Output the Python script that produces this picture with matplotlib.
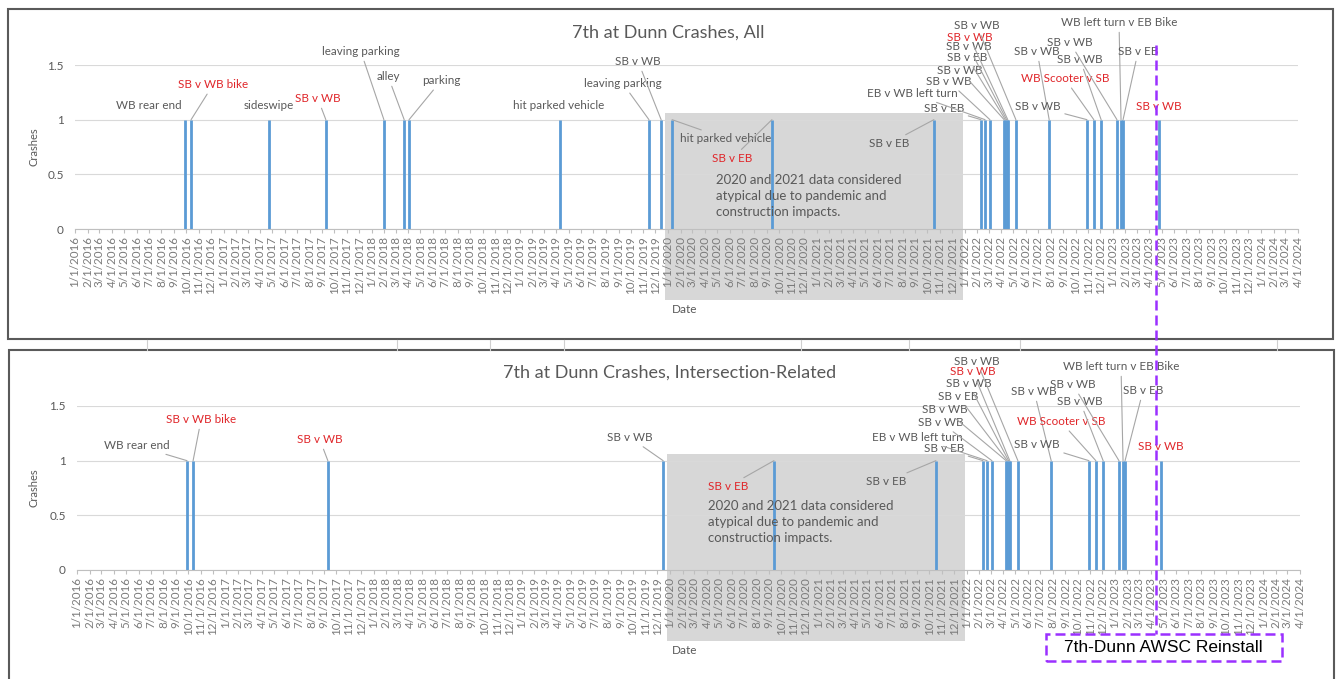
import matplotlib
matplotlib.use("Agg")
import matplotlib.pyplot as plt
import matplotlib.dates as mdates
from matplotlib.patches import Rectangle
from matplotlib.lines import Line2D
import matplotlib.transforms as mtransforms
import numpy as np

W, H = 1340, 679

# crash records (one bar per crash)
crash_dates = ['2016-09-28', '2016-10-13', '2017-04-23', '2017-09-10', '2018-01-31',
               '2018-03-22', '2018-04-03', '2019-04-10', '2019-11-15', '2019-12-15',
               '2020-01-11', '2020-09-13', '2021-10-17', '2022-02-10', '2022-02-20',
               '2022-03-04', '2022-04-08', '2022-04-11', '2022-04-14', '2022-04-17',
               '2022-05-07', '2022-07-28', '2022-10-29', '2022-11-15', '2022-12-03',
               '2023-01-11', '2023-01-21', '2023-01-26', '2023-04-25']
crash_counts = [1, 1, 1, 1, 1, 1, 1, 1, 1, 1, 1, 1, 1, 1, 1,
                1, 1, 1, 1, 1, 1, 1, 1, 1, 1, 1, 1, 1, 1]
crash_types = ['WB rear end', 'SB v WB bike', 'sideswipe', 'SB v WB', 'leaving parking',
               'alley', 'parking', 'hit parked vehicle', 'leaving parking', 'SB v WB',
               'hit parked vehicle', 'SB v EB', 'SB v EB', 'SB v EB', 'EB v WB left turn',
               'SB v WB', 'SB v WB', 'SB v EB', 'SB v WB', 'SB v WB',
               'SB v WB', 'SB v WB', 'SB v WB', 'WB Scooter v SB', 'SB v WB',
               'SB v WB', 'WB left turn v EB Bike', 'SB v EB', 'SB v WB']
highlight = [False, True, False, True, False, False, False, False, False, False,
             False, True, False, False, False, False, False, False, False, True,
             False, False, False, True, False, False, False, False, True]
intersection = [True, True, False, True, False, False, False, False, False, True,
                False, True, True, True, True, True, True, True, True, True,
                True, True, True, True, True, True, True, True, True]

atypical_start, atypical_end = '2019-12-24', '2021-12-28'
atypical_note = '2020 and 2021 data considered\natypical due to pandemic and\nconstruction impacts.'
reinstall_date = '2023-04-17'
x_start, x_end = '2016-01-01', '2024-04-01'

# label placement (pixel offsets from bar top, leader line on/off)
top_offsets = [(-36, 14, False), (22, 35, True), (0, 14, False), (-8, 21, True), (-23, 68, True),
               (-16, 43, True), (32, 39, True), (-1, 14, False), (-26, 36, True), (-23, 58, True),
               (54, -19, True), (-40, -39, True), (-45, -24, True), (-37, 11, True), (-73, 26, True),
               (-41, 38, True), (-44, 49, True), (-38, 62, True), (-38, 73, True), (-38, 82, True),
               (-39, 94, True), (-12, 68, True), (-49, 13, True), (-29, 41, True), (-21, 60, True),
               (-47, 77, True), (-2, 97, True), (15, 68, True), (0, 13, False)]
bottom_offsets = [(-50, 15, True), (8, 41, True), None, (-8, 21, True), None,
                  None, None, None, None, (-33, 23, True),
                  None, (-46, -26, True), (-50, -21, True), (-39, 12, True), (-70, 23, True),
                  (-51, 38, True), (-61, 51, True), (-49, 64, True), (-40, 77, True), (-37, 89, True),
                  (-41, 99, True), (-17, 69, True), (-52, 16, True), (-35, 39, True), (-23, 59, True),
                  (-46, 76, True), (-2, 94, True), (18, 70, True), (0, 14, False)]

plt.rcParams['font.family'] = ['Lato', 'DejaVu Sans']
GRAY = '#595959'
RED = '#e0262a'
BLUE = '#5b9bd5'
PURPLE = '#9b30ff'

dates = np.array(crash_dates, dtype='datetime64[D]')
counts = np.array(crash_counts)
inter = np.array(intersection)

fig = plt.figure(figsize=(W / 100, H / 100), dpi=100)


def fx(x):
    return x / W


def fy(y):
    return 1 - y / H


def month_label(x, pos):
    d = mdates.num2date(x)
    return f"{d.month}/{d.day}/{d.year}"


def make_chart(rect_px, title, title_xy, frame_px, sel, offsets, note_off, date_y):
    x0, x1, y0, y1 = rect_px
    ax = fig.add_axes([fx(x0), fy(y0), fx(x1 - x0), (y0 - y1) / H])
    ax.set_xlim(np.datetime64(x_start), np.datetime64(x_end))
    ax.set_ylim(0, 1.5)
    ax.set_yticks([0, 0.5, 1, 1.5])
    ax.set_yticklabels(['0', '0.5', '1', '1.5'])
    ax.grid(axis='y', color='#d9d9d9', lw=0.8)
    ax.set_axisbelow(True)
    for s in ['left', 'right', 'top']:
        ax.spines[s].set_visible(False)
    ax.spines['bottom'].set_color('#bfbfbf')
    ax.xaxis.set_major_locator(mdates.MonthLocator())
    ax.xaxis.set_major_formatter(plt.FuncFormatter(month_label))
    ax.tick_params(axis='x', length=3, color='#bfbfbf', labelsize=8.4, labelcolor='#7a7a7a',
                   labelrotation=90, pad=2)
    ax.tick_params(axis='y', length=0, labelsize=8.5, labelcolor=GRAY, pad=8)
    ax.patch.set_alpha(0)

    # shaded 2020-2021 period
    trans = mtransforms.blended_transform_factory(ax.transData, ax.transAxes)
    s = mdates.date2num(np.datetime64(atypical_start))
    e = mdates.date2num(np.datetime64(atypical_end))
    ax.add_patch(Rectangle((s, -0.435), e - s, 1.145, transform=trans, facecolor='#d7d7d7',
                           edgecolor='none', zorder=0.2, clip_on=False))
    ax.annotate(atypical_note, xy=(s, 0), xytext=note_off, textcoords='offset pixels',
                fontsize=9.5, color=GRAY, va='top', ha='left', linespacing=1.4, zorder=3,
                annotation_clip=False)

    ax.vlines(dates[sel], 0, counts[sel], color=BLUE, lw=2, zorder=2)

    for i in np.where(sel)[0]:
        dx, dy, leader = offsets[i]
        col = RED if highlight[i] else GRAY
        arrow = dict(arrowstyle='-', color='#a6a6a6', lw=0.8, shrinkA=1, shrinkB=0) if leader else None
        ax.annotate(crash_types[i], xy=(dates[i], counts[i]), xytext=(dx, dy), textcoords='offset pixels',
                    ha='center', va='center', fontsize=8.4, color=col, arrowprops=arrow,
                    annotation_clip=False, zorder=4)

    ax.set_ylabel('Crashes', fontsize=8, color=GRAY)
    ax.yaxis.set_label_coords((39 - x0) / (x1 - x0), 0.5)
    ax.set_xlabel('Date', fontsize=8.5, color=GRAY)
    ax.xaxis.set_label_coords((685 - x0) / (x1 - x0), (y0 - date_y) / (y0 - y1))

    fig.text(fx(title_xy[0]), fy(title_xy[1]), title, fontsize=13, color=GRAY, ha='center', va='center')
    fx0, fy0, fx1, fy1 = frame_px
    fig.add_artist(Rectangle((fx(fx0), fy(fy1)), fx(fx1 - fx0), (fy1 - fy0) / H, transform=fig.transFigure,
                             fill=False, edgecolor='#5a5a5a', lw=1.5))
    return ax


all_sel = np.ones(len(crash_dates), dtype=bool)
ax_top = make_chart((75, 1298, 229, 65), '7th at Dunn Crashes, All', (668, 33), (8, 9, 1333, 339),
                    all_sel, top_offsets, (51, 55), 304)
ax_bot = make_chart((77, 1300, 570, 406), '7th at Dunn Crashes, Intersection-Related', (670, 373),
                    (9, 350, 1334, 681), inter, bottom_offsets, (41, 70), 645)

# faint spreadsheet cell lines between the two chart frames
for cx in [147, 397, 490, 564, 801, 909, 1020, 1277]:
    fig.add_artist(Line2D([fx(cx), fx(cx)], [fy(340), fy(350)], color='#d0d0d0', lw=0.8))

# reinstall marker spanning both charts
fig.canvas.draw()
xr = ax_top.transData.transform((mdates.date2num(np.datetime64(reinstall_date)), 0))[0]
fig.add_artist(Line2D([xr / W, xr / W], [fy(45), fy(634)], color=PURPLE, lw=1.8, ls=(0, (4, 2))))
fig.add_artist(Rectangle((fx(1046), fy(661)), fx(236), 27 / H, transform=fig.transFigure,
                         facecolor='white', edgecolor=PURPLE, lw=1.8, ls=(0, (4, 2))))
fig.text(fx(1163), fy(647), '7th-Dunn AWSC Reinstall', fontsize=12.5, color='black',
         ha='center', va='center', family=['Liberation Sans', 'DejaVu Sans'])

fig.savefig('out.png', dpi=100)
